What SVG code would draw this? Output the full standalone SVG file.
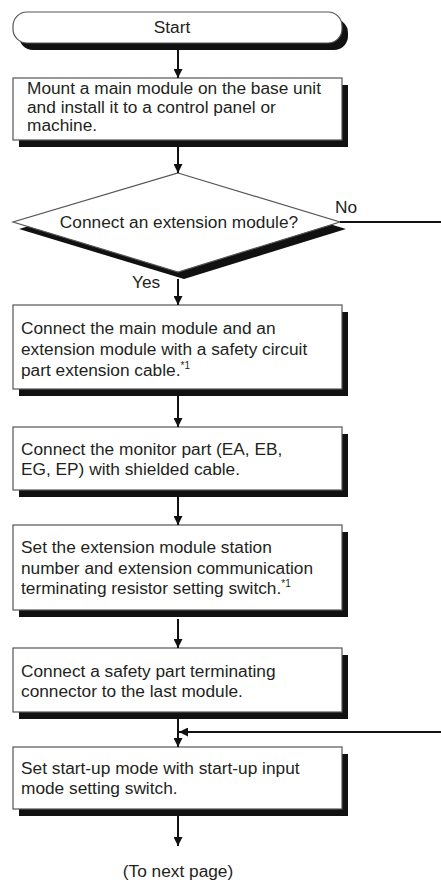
<svg xmlns="http://www.w3.org/2000/svg" width="441" height="884" viewBox="0 0 441 884">
<style>
text{font-family:"Liberation Sans",Arial,sans-serif;font-size:17.3px;fill:#231f20}
.sup{font-size:10px}
.box{fill:#fff;stroke:#555;stroke-width:1.2}
.sh{fill:#111}
.c{stroke:#111;stroke-width:2;fill:none}
</style>
<defs>
<marker id="ah" viewBox="0 0 10 10" refX="10" refY="5" markerWidth="9" markerHeight="9" markerUnits="userSpaceOnUse" orient="auto">
<path d="M0,0 L10,5 L0,10 z" fill="#111"/>
</marker>
</defs>
<rect width="441" height="884" fill="#fff"/>
<g id="start">
<rect class="sh" x="19" y="19" width="329" height="31" rx="14"/>
<rect class="box" x="13" y="12" width="329" height="31" rx="14"/>
<text x="172" y="33" text-anchor="middle">Start</text>
</g>
<g id="mount">
<rect class="sh" x="19" y="85" width="329" height="62"/>
<rect class="box" x="13" y="78" width="329" height="62"/>
<text x="27" y="94">Mount a main module on the base unit</text>
<text x="27" y="112.5">and install it to a control panel or</text>
<text x="27" y="131">machine.</text>
</g>
<g id="decision">
<polygon class="sh" points="184,180 346,229 184,279 19,229"/>
<polygon class="box" points="178,173 340,222 178,272 13,222"/>
<text x="179" y="228" text-anchor="middle">Connect an extension module?</text>
</g>
<g id="connect-ext">
<rect class="sh" x="19" y="312" width="329" height="84"/>
<rect class="box" x="13" y="305" width="329" height="84"/>
<text x="21" y="334">Connect the main module and an</text>
<text x="21" y="355">extension module with a safety circuit</text>
<text x="21" y="376">part extension cable.<tspan class="sup" dy="-7">*1</tspan></text>
</g>
<g id="monitor">
<rect class="sh" x="19" y="434" width="329" height="63"/>
<rect class="box" x="13" y="427" width="329" height="63"/>
<text x="21" y="455">Connect the monitor part (EA, EB,</text>
<text x="21" y="475">EG, EP) with shielded cable.</text>
</g>
<g id="station">
<rect class="sh" x="19" y="532" width="329" height="85"/>
<rect class="box" x="13" y="525" width="329" height="85"/>
<text x="21" y="552.5">Set the extension module station</text>
<text x="21" y="573.5">number and extension communication</text>
<text x="21" y="594">terminating resistor setting switch.<tspan class="sup" dy="-7">*1</tspan></text>
</g>
<g id="terminator">
<rect class="sh" x="19" y="655" width="329" height="64"/>
<rect class="box" x="13" y="648" width="329" height="64"/>
<text x="21" y="676.5">Connect a safety part terminating</text>
<text x="21" y="696.5">connector to the last module.</text>
</g>
<g id="startup">
<rect class="sh" x="19" y="754" width="329" height="62"/>
<rect class="box" x="13" y="747" width="329" height="62"/>
<text x="21" y="774">Set start-up mode with start-up input</text>
<text x="21" y="794">mode setting switch.</text>
</g>
<g id="next">
<text x="178" y="877" text-anchor="middle">(To next page)</text>
</g>
<g id="connectors">
<line class="c" x1="178" y1="50" x2="178" y2="78" marker-end="url(#ah)"/>
<line class="c" x1="178" y1="147" x2="178" y2="173" marker-end="url(#ah)"/>
<line class="c" x1="178" y1="279" x2="178" y2="305" marker-end="url(#ah)"/>
<line class="c" x1="178" y1="396" x2="178" y2="427" marker-end="url(#ah)"/>
<line class="c" x1="178" y1="497" x2="178" y2="525" marker-end="url(#ah)"/>
<line class="c" x1="178" y1="619" x2="178" y2="648" marker-end="url(#ah)"/>
<line class="c" x1="178" y1="719" x2="178" y2="747" marker-end="url(#ah)"/>
<line class="c" x1="178" y1="816" x2="178" y2="846" marker-end="url(#ah)"/>
<line class="c" x1="340" y1="222" x2="441" y2="222"/>
<line class="c" x1="441" y1="732" x2="179" y2="732" marker-end="url(#ah)"/>
<text x="335" y="213">No</text>
<text x="132" y="288">Yes</text>
</g>
</svg>
